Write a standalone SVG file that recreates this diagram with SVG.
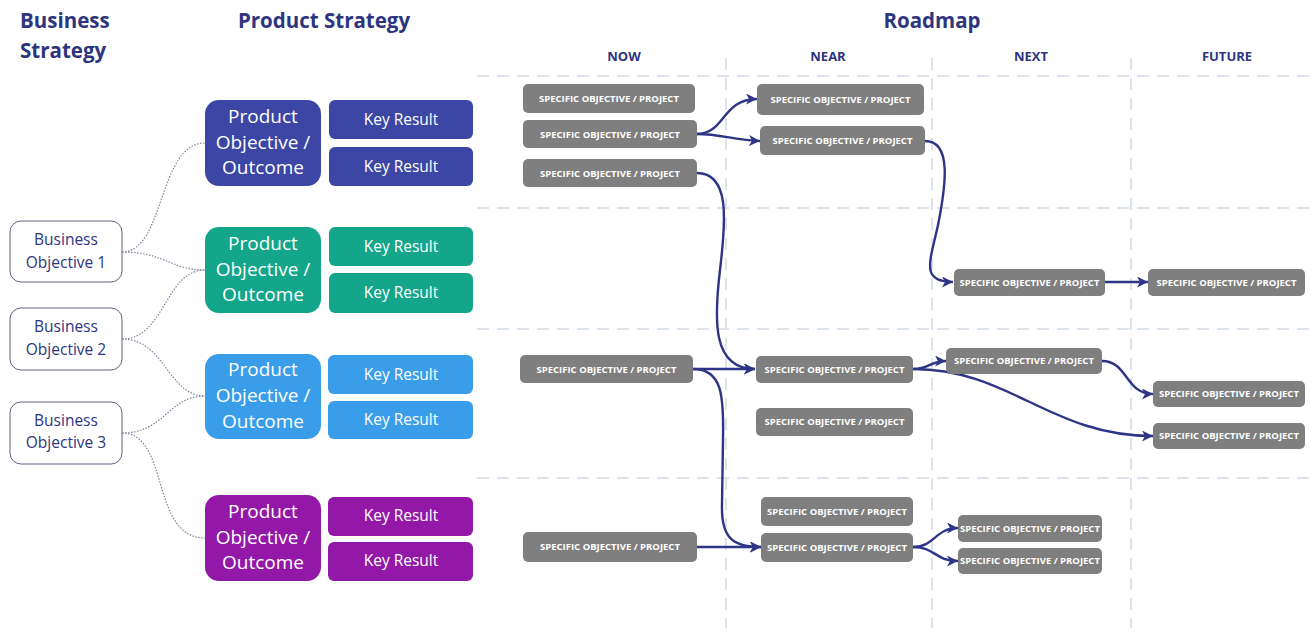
<svg xmlns="http://www.w3.org/2000/svg" width="1311" height="633" viewBox="0 0 1311 633">
<defs>
<style>
.title{font-family:"Open Sans","Liberation Sans",sans-serif;font-weight:bold;font-size:20.5px;fill:#2e3580}
.col{font-family:"Open Sans","Liberation Sans",sans-serif;font-weight:bold;font-size:13px;fill:#2e3580;text-anchor:middle}
.grid{stroke:#dce3eb;stroke-width:2;stroke-dasharray:12 8;fill:none}
.bo rect{fill:#fff;stroke:#5c6380;stroke-width:1}
.bo text{font-family:"Open Sans","Liberation Sans",sans-serif;font-size:15.5px;fill:#2e3580;text-anchor:middle}
.po text{font-family:"Open Sans","Liberation Sans",sans-serif;font-size:19px;fill:#fff;text-anchor:middle}
.kr text{font-family:"Open Sans","Liberation Sans",sans-serif;font-size:15.5px;fill:#fff;text-anchor:middle}
.sp rect{fill:#7f7f7f}
.sp text{font-family:"Open Sans","Liberation Sans",sans-serif;font-weight:bold;font-size:9.5px;fill:#fff;text-anchor:middle}
.dot{fill:none;stroke:#7d8399;stroke-width:1.2;stroke-dasharray:1.5 1.5}
.arr{fill:none;stroke:#2e3586;stroke-width:2.4;marker-end:url(#ah)}
.c1{fill:#3c46a4}.c2{fill:#13a68a}.c3{fill:#3a9de9}.c4{fill:#9318a7}
</style>
<marker id="ah" markerUnits="userSpaceOnUse" markerWidth="12" markerHeight="11" refX="11" refY="5.5" orient="auto">
<path d="M0,0 L11,5.5 L0,11 L3,5.5 z" fill="#2e3586"/>
</marker>
</defs>
<rect width="1311" height="633" fill="#fff"/>

<g id="titles">
<text class="title" x="20" y="28">Business</text>
<text class="title" x="20" y="58">Strategy</text>
<text class="title" x="324" y="28" text-anchor="middle">Product Strategy</text>
<text class="title" x="932" y="28" text-anchor="middle">Roadmap</text>
<text class="col" x="624" y="61">NOW</text>
<text class="col" x="828" y="61">NEAR</text>
<text class="col" x="1031" y="61">NEXT</text>
<text class="col" x="1227" y="61">FUTURE</text>
</g>

<g id="grid">
<line class="grid" x1="477" y1="76" x2="1311" y2="76"/>
<line class="grid" x1="477" y1="208" x2="1311" y2="208"/>
<line class="grid" x1="477" y1="329" x2="1311" y2="329"/>
<line class="grid" x1="477" y1="478" x2="1311" y2="478"/>
<line class="grid" x1="726" y1="58" x2="726" y2="628"/>
<line class="grid" x1="932" y1="58" x2="932" y2="628"/>
<line class="grid" x1="1131" y1="58" x2="1131" y2="628"/>
</g>

<g id="connectors">
<path class="dot" d="M122,252 C165,252 158,143 205,143"/>
<path class="dot" d="M122,252 C165,252 170,270 205,270"/>
<path class="dot" d="M122,339 C165,339 165,270 205,270"/>
<path class="dot" d="M122,339 C165,339 168,396 205,396"/>
<path class="dot" d="M122,433 C165,433 168,396 205,396"/>
<path class="dot" d="M122,433 C170,433 150,538 205,538"/>

<path class="arr" d="M697,134 C725,134 722,99 757,99"/>
<path class="arr" d="M697,134 C720,134 735,140 760,141"/>
<path class="arr" d="M697,173 C730,173 726,220 720,270 C714,320 712,369 755,369"/>
<path class="arr" d="M925,141 C952,141 946,185 938,225 C930,262 920,282 953,282"/>
<path class="arr" d="M1105,282 L1148,282"/>
<path class="arr" d="M693,369 L755,369"/>
<path class="arr" d="M693,369 C722,369 724,395 723,440 L722,505 C721,540 735,547 761,547"/>
<path class="arr" d="M913,369 C930,369 930,361 946,361"/>
<path class="arr" d="M913,369 C1010,369 1050,436 1153,436"/>
<path class="arr" d="M1102,361 C1128,361 1125,394 1153,394"/>
<path class="arr" d="M697,547 L761,547"/>
<path class="arr" d="M913,547 C935,547 935,528 958,528"/>
<path class="arr" d="M913,547 C935,547 935,561 958,561"/>
</g>

<g id="bo1" class="bo"><rect x="10" y="221" width="112" height="61" rx="11"/><text x="66" y="245">Business</text><text x="66" y="268">Objective 1</text></g>
<g id="bo2" class="bo"><rect x="10" y="308" width="112" height="62" rx="11"/><text x="66" y="332">Business</text><text x="66" y="355">Objective 2</text></g>
<g id="bo3" class="bo"><rect x="10" y="402" width="112" height="62" rx="11"/><text x="66" y="426">Business</text><text x="66" y="448">Objective 3</text></g>

<g id="po1" class="po"><rect class="c1" x="205" y="100" width="116" height="86" rx="14"/><text x="263" y="123">Product</text><text x="263" y="149">Objective /</text><text x="263" y="174">Outcome</text></g>
<g id="po2" class="po"><rect class="c2" x="205" y="227" width="116" height="86" rx="14"/><text x="263" y="250">Product</text><text x="263" y="276">Objective /</text><text x="263" y="301">Outcome</text></g>
<g id="po3" class="po"><rect class="c3" x="205" y="354" width="116" height="85" rx="14"/><text x="263" y="376">Product</text><text x="263" y="402">Objective /</text><text x="263" y="428">Outcome</text></g>
<g id="po4" class="po"><rect class="c4" x="205" y="495" width="116" height="86" rx="14"/><text x="263" y="518">Product</text><text x="263" y="544">Objective /</text><text x="263" y="569">Outcome</text></g>

<g id="kr1a" class="kr"><rect class="c1" x="329" y="100" width="144" height="39" rx="6"/><text x="401" y="125">Key Result</text></g>
<g id="kr1b" class="kr"><rect class="c1" x="329" y="147" width="144" height="39" rx="6"/><text x="401" y="172">Key Result</text></g>
<g id="kr2a" class="kr"><rect class="c2" x="329" y="227" width="144" height="39" rx="6"/><text x="401" y="252">Key Result</text></g>
<g id="kr2b" class="kr"><rect class="c2" x="329" y="273" width="144" height="40" rx="6"/><text x="401" y="298">Key Result</text></g>
<g id="kr3a" class="kr"><rect class="c3" x="328" y="355" width="145" height="39" rx="6"/><text x="401" y="380">Key Result</text></g>
<g id="kr3b" class="kr"><rect class="c3" x="328" y="401" width="145" height="38" rx="6"/><text x="401" y="425">Key Result</text></g>
<g id="kr4a" class="kr"><rect class="c4" x="328" y="497" width="145" height="39" rx="6"/><text x="401" y="521">Key Result</text></g>
<g id="kr4b" class="kr"><rect class="c4" x="328" y="542" width="145" height="39" rx="6"/><text x="401" y="566">Key Result</text></g>

<g id="a1" class="sp"><rect x="523" y="84" width="172" height="29" rx="5"/><text x="609" y="102">SPECIFIC OBJECTIVE / PROJECT</text></g>
<g id="a2" class="sp"><rect x="523" y="120" width="174" height="28" rx="5"/><text x="610" y="137.5">SPECIFIC OBJECTIVE / PROJECT</text></g>
<g id="a3" class="sp"><rect x="523" y="159" width="174" height="28" rx="5"/><text x="610" y="176.5">SPECIFIC OBJECTIVE / PROJECT</text></g>
<g id="b1" class="sp"><rect x="757" y="84" width="167" height="31" rx="5"/><text x="840.5" y="103">SPECIFIC OBJECTIVE / PROJECT</text></g>
<g id="b2" class="sp"><rect x="760" y="126" width="165" height="29" rx="5"/><text x="842.5" y="144">SPECIFIC OBJECTIVE / PROJECT</text></g>
<g id="c1" class="sp"><rect x="954" y="269" width="151" height="27" rx="5"/><text x="1029.5" y="285.5">SPECIFIC OBJECTIVE / PROJECT</text></g>
<g id="d1" class="sp"><rect x="1148" y="269" width="157" height="27" rx="5"/><text x="1226.5" y="285.5">SPECIFIC OBJECTIVE / PROJECT</text></g>
<g id="e1" class="sp"><rect x="520" y="355" width="173" height="28" rx="5"/><text x="606.5" y="372.5">SPECIFIC OBJECTIVE / PROJECT</text></g>
<g id="e2" class="sp"><rect x="756" y="356" width="157" height="27" rx="5"/><text x="834.5" y="372.5">SPECIFIC OBJECTIVE / PROJECT</text></g>
<g id="e3" class="sp"><rect x="756" y="408" width="157" height="28" rx="5"/><text x="834.5" y="425">SPECIFIC OBJECTIVE / PROJECT</text></g>
<g id="e4" class="sp"><rect x="946" y="348" width="156" height="26" rx="5"/><text x="1024" y="364">SPECIFIC OBJECTIVE / PROJECT</text></g>
<g id="e5" class="sp"><rect x="1153" y="381" width="152" height="26" rx="5"/><text x="1229" y="397">SPECIFIC OBJECTIVE / PROJECT</text></g>
<g id="e6" class="sp"><rect x="1153" y="423" width="152" height="26" rx="5"/><text x="1229" y="439">SPECIFIC OBJECTIVE / PROJECT</text></g>
<g id="f1" class="sp"><rect x="523" y="532" width="174" height="30" rx="5"/><text x="610" y="550">SPECIFIC OBJECTIVE / PROJECT</text></g>
<g id="f2" class="sp"><rect x="761" y="497" width="152" height="29" rx="5"/><text x="837" y="514.5">SPECIFIC OBJECTIVE / PROJECT</text></g>
<g id="f3" class="sp"><rect x="761" y="533" width="152" height="29" rx="5"/><text x="837" y="550.5">SPECIFIC OBJECTIVE / PROJECT</text></g>
<g id="f4" class="sp"><rect x="958" y="515" width="144" height="27" rx="5"/><text x="1030" y="531.5">SPECIFIC OBJECTIVE / PROJECT</text></g>
<g id="f5" class="sp"><rect x="958" y="548" width="144" height="26" rx="5"/><text x="1030" y="564">SPECIFIC OBJECTIVE / PROJECT</text></g>
</svg>
